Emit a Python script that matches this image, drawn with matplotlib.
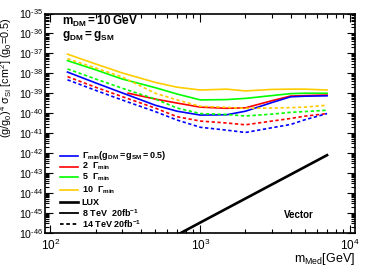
import matplotlib
matplotlib.use("Agg")
import matplotlib.pyplot as plt
import numpy as np
from matplotlib.ticker import LogLocator, NullFormatter, FuncFormatter

plt.rcParams['font.family'] = ['Liberation Sans', 'DejaVu Sans']
plt.rcParams['mathtext.fontset'] = 'custom'
plt.rcParams['mathtext.rm'] = 'Liberation Sans'
plt.rcParams['mathtext.it'] = 'Liberation Sans'
plt.rcParams['mathtext.bf'] = 'Liberation Sans:bold'

# mediator mass [GeV]
m = [130, 200, 300, 500, 700, 1000, 1500, 2000, 3000, 4000, 5000, 7000]
m_red = [330, 500, 700, 1000, 1500, 2000, 3000, 4000, 5000, 7000]

# 8 TeV 20 fb-1 (solid)
w1_8 = [1.15e-38, 3.3e-39, 1.05e-39, 2.5e-40, 1.25e-40, 8e-41, 8.3e-41, 1.25e-40, 3.4e-40, 6.6e-40, 7.1e-40, 7.4e-40]
w2_8 = [1.0e-39, 5.1e-40, 3.2e-40, 2.0e-40, 1.75e-40, 1.85e-40, 4.2e-40, 7.2e-40, 7.6e-40, 8.1e-40]
w5_8 = [4.3e-38, 1.5e-38, 5.2e-39, 1.9e-39, 9.1e-40, 4.6e-40, 4.8e-40, 5.5e-40, 7.6e-40, 9.5e-40, 1e-39, 1e-39]
w10_8 = [9.1e-38, 2.95e-38, 1.05e-38, 3.5e-39, 2.0e-39, 1.45e-39, 1.6e-39, 1.3e-39, 1.55e-39, 1.6e-39, 1.6e-39, 1.45e-39]

# 14 TeV 20 fb-1 (dotted)
w1_14 = [4.7e-39, 1.4e-39, 4.6e-40, 1.2e-40, 4.5e-41, 1.95e-41, 1.4e-41, 1.07e-41, 1.85e-41, 2.7e-41, 4.7e-41, 9.5e-41]
w2_14 = [6.8e-39, 2.0e-39, 6.8e-40, 1.8e-40, 6.6e-41, 4e-41, 3.2e-41, 2.6e-41, 4e-41, 5.4e-41, 7.1e-41, 9.5e-41]
w5_14 = [1.65e-38, 5.2e-39, 1.8e-39, 5.1e-40, 1.8e-40, 9.5e-41, 8.5e-41, 7.2e-41, 8.9e-41, 1.1e-40, 1.2e-40, 1.4e-40]
w10_14 = [5.4e-38, 1.85e-38, 6.6e-39, 1.0e-39, 4.6e-40, 2.2e-40, 1.95e-40, 1.75e-40, 1.8e-40, 1.9e-40, 2.0e-40, 2.5e-40]

# LUX
m_lux = [500, 1000, 2000, 4000, 7000]
lux = [2.0e-47, 3.25e-46, 5.2e-45, 8.3e-44, 7.8e-43]

fig = plt.figure(figsize=(3.74, 2.68), dpi=100)
ax = fig.add_axes([0.1203, 0.1317, 0.8287, 0.8179])

blue, red, green, yel = '#0000ff', '#ff0000', '#00ff00', '#ffcc00'
dot = (0, (2, 1.5))
lw = 1.2

ax.plot(m, w10_8, color=yel, lw=lw)
ax.plot(m, w5_8, color=green, lw=lw)
ax.plot(m_red, w2_8, color=red, lw=lw)
ax.plot(m, w1_8, color=blue, lw=lw)
ax.plot(m, w10_14, color=yel, lw=lw, ls=dot)
ax.plot(m, w5_14, color=green, lw=lw, ls=dot)
ax.plot(m, w2_14, color=red, lw=lw, ls=dot)
ax.plot(m, w1_14, color=blue, lw=lw, ls=dot)
ax.plot(m_lux, lux, color='black', lw=1.9)

ax.set_xscale('log')
ax.set_yscale('log')
ax.set_xlim(92, 10740)
ax.set_ylim(1e-46, 1e-35)


def dec_label(v, pos):
    e = int(round(np.log10(v)))
    return r'10$^{\text{%d}}$' % e


ax.xaxis.set_major_locator(LogLocator(base=10, numticks=10))
ax.xaxis.set_minor_locator(LogLocator(base=10, subs=np.arange(2, 10), numticks=20))
ax.yaxis.set_major_locator(LogLocator(base=10, numticks=20))
ax.yaxis.set_minor_locator(LogLocator(base=10, subs=np.arange(2, 10), numticks=50))
ax.xaxis.set_major_formatter(FuncFormatter(dec_label))
ax.yaxis.set_major_formatter(FuncFormatter(dec_label))
ax.xaxis.set_minor_formatter(NullFormatter())
ax.yaxis.set_minor_formatter(NullFormatter())
ax.tick_params(which='both', direction='in', top=True, right=True, labelsize=8.5, width=0.8)
ax.tick_params(which='major', length=6)
ax.tick_params(which='minor', length=3)
ax.tick_params(axis='y', pad=1.5, labelsize=7.6)
ax.tick_params(axis='x', pad=4)
for s in ax.spines.values():
    s.set_linewidth(1.2)

ax.set_ylabel(r'(g/g$_0$)$^4$ $\sigma_{SI}$ [cm$^2$] (g$_0$=0.5)', fontsize=7.8, labelpad=1)
ax.yaxis.set_label_coords(-0.1, 0.71)
ax.set_xlabel(r'm$_{Med}$[GeV]', fontsize=9, labelpad=3)
ax.xaxis.set_label_coords(1.0, -0.085)
ax.xaxis.label.set_horizontalalignment('right')

ax.text(0.055, 0.947, r'$\mathbf{m_{DM}}$' + r'$\mathbf{=10\ GeV}$', transform=ax.transAxes,
        fontsize=8.5, fontweight='bold', va='baseline')
ax.text(0.055, 0.888, r'$\mathbf{g_{DM}=g_{SM}}$', transform=ax.transAxes,
        fontsize=8.5, fontweight='bold', va='baseline')
ax.text(0.771, 0.066, 'Vector', transform=ax.transAxes, fontsize=7, fontweight='bold',
        va='baseline')

# legend drawn by hand, rows as in the original
leg_rows = [0.351, 0.302, 0.252, 0.194, 0.138, 0.0877, 0.0388]
leg_styles = [
    dict(color=blue, lw=lw),
    dict(color=red, lw=lw),
    dict(color=green, lw=lw),
    dict(color=yel, lw=lw),
    dict(color='black', lw=1.9),
    dict(color='black', lw=1.3),
    dict(color='black', lw=1.3, ls=dot),
]
leg_labels = [
    r'$\mathbf{\Gamma_{min}(g_{DM}=g_{SM}=0.5)}$',
    r'$\mathbf{2\ \ \Gamma_{min}}$',
    r'$\mathbf{5\ \ \Gamma_{min}}$',
    r'$\mathbf{10\ \ \Gamma_{min}}$',
    'LUX',
    r'$\mathbf{8\ TeV\ \ 20fb^{-1}}$',
    r'$\mathbf{14\ TeV\ 20fb^{-1}}$',
]
for yy, st, lab in zip(leg_rows, leg_styles, leg_labels):
    ax.plot([0.048, 0.106], [yy, yy], transform=ax.transAxes, clip_on=False, **st)
    ax.text(0.119, yy, lab, transform=ax.transAxes, fontsize=6.5, fontweight='bold',
            va='center')

fig.savefig('out.png', dpi=100)
